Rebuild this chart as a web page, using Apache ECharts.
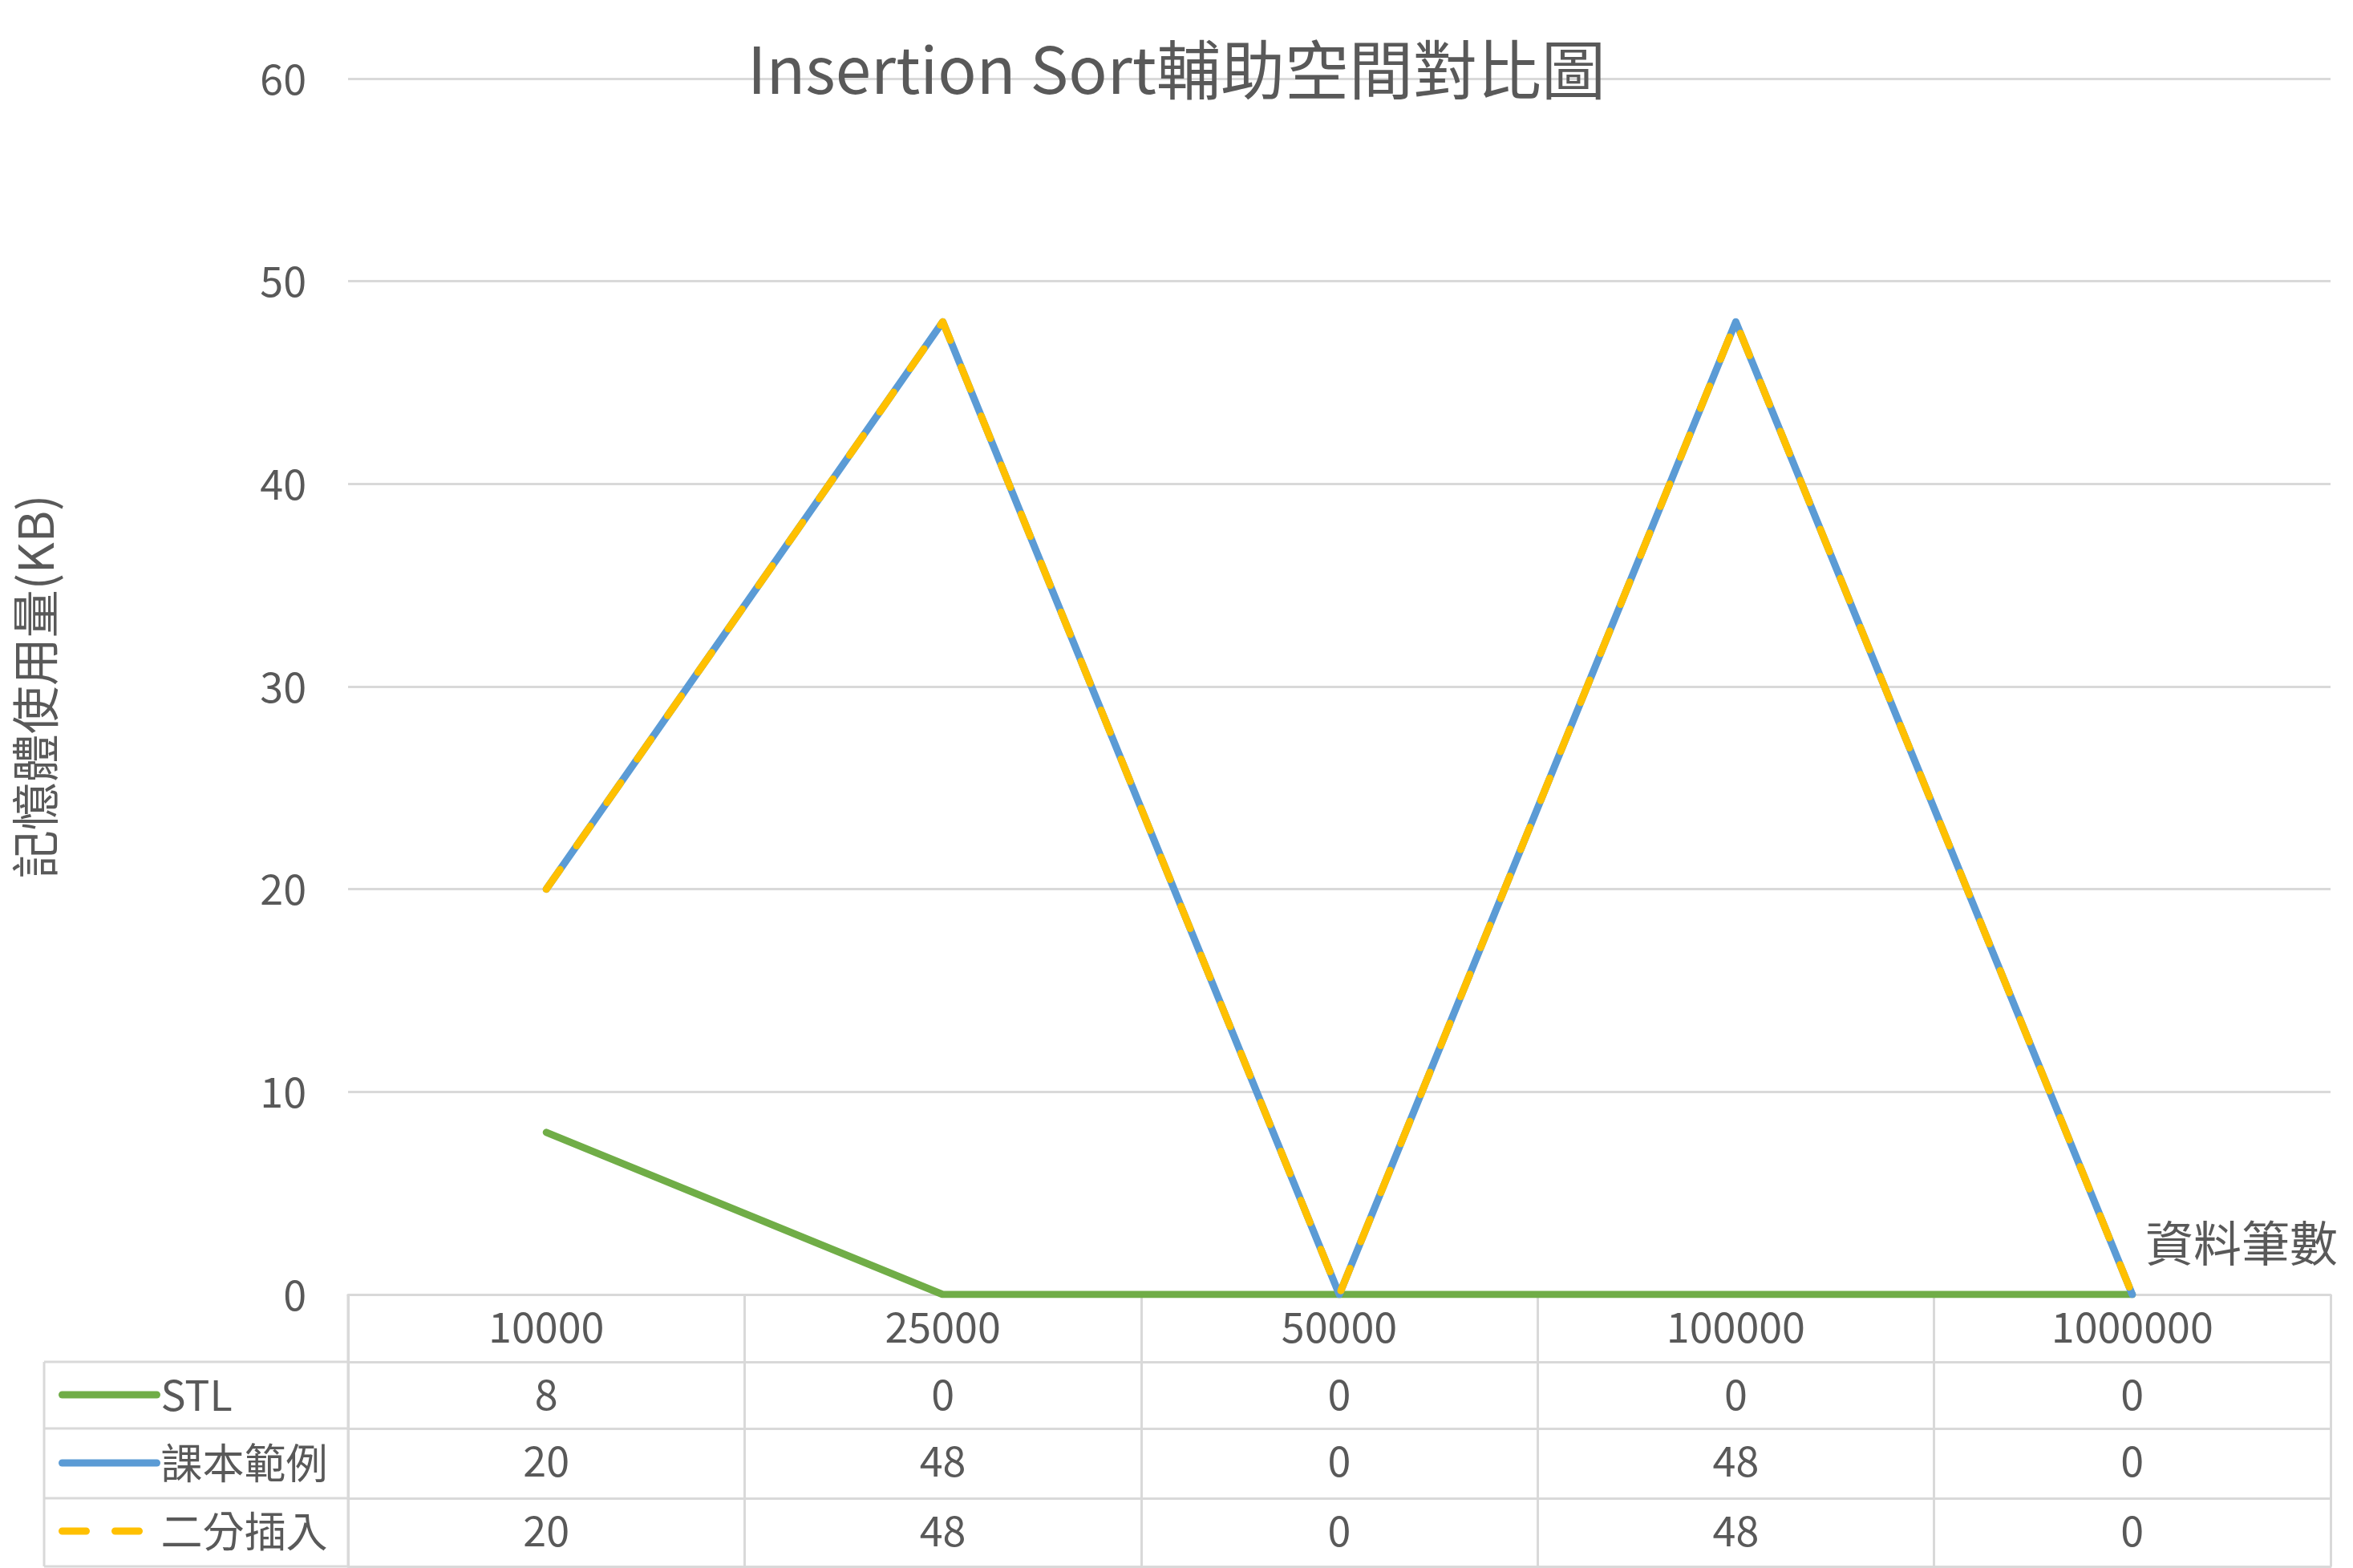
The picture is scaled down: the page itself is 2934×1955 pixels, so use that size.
<!DOCTYPE html>
<html>
<head>
<meta charset="utf-8">
<script src="https://cdn.jsdelivr.net/npm/echarts@6/dist/echarts.min.js"></script>
<style>
  html, body { margin: 0; padding: 0; background: #fff; }
  #chart { width: 2934px; height: 1955px; }
</style>
</head>
<body>
<div id="chart"></div>
<script>
// data
const categories = ["10000", "25000", "50000", "100000", "1000000"];
const stlValues = [8, 0, 0, 0, 0];
const textbookValues = [20, 48, 0, 48, 0];
const binaryValues = [20, 48, 0, 48, 0];
const seriesNames = ["STL", "課本範例", "二分插入"];
const yTicks = { min: 0, max: 60, interval: 10 };

const font = '"Noto Sans CJK TC", "Noto Sans", sans-serif';
const textColor = "#595959";
const lineColor = "#D9D9D9";

// layout of plot + table rows
const gridLeft = 434, gridRight = 2906, gridTop = 98, baseY = 1614;
const rowBottoms = [1698, 1781, 1868, 1953];
const legendLeft = 55;

const chart = echarts.init(document.getElementById("chart"));

// one x axis per table row, labels taken from the series arrays
function rowAxis(offset, tickLen, values) {
  return {
    type: "category",
    data: categories,
    position: "bottom",
    offset: offset,
    axisLine: { show: true, lineStyle: { color: lineColor, width: 3 } },
    axisTick: { show: tickLen > 0, interval: 0, length: tickLen, lineStyle: { color: lineColor, width: 3 } },
    axisLabel: {
      show: !!values,
      interval: 0,
      margin: 12,
      fontSize: 52,
      lineHeight: 56,
      color: textColor,
      fontFamily: font,
      formatter: (v, i) => (values ? String(values[i]) : ""),
    },
    splitLine: { show: false },
  };
}

const option = {
  backgroundColor: "#fff",
  title: {
    text: "Insertion Sort輔助空間對比圖",
    left: "center",
    top: 40,
    textStyle: { fontSize: 80, lineHeight: 84, fontWeight: "normal", color: textColor, fontFamily: font },
  },
  grid: { left: gridLeft, right: 2934 - gridRight, top: gridTop, bottom: 1955 - baseY, containLabel: false },
  legend: {
    orient: "vertical",
    left: 68,
    top: 1704,
    itemWidth: 118,
    itemHeight: 14,
    itemGap: 25,
    itemStyle: { opacity: 0 },
    lineStyle: { width: 9, cap: "round" },
    textStyle: { fontSize: 52, lineHeight: 60, color: textColor, fontFamily: font },
    data: seriesNames,
  },
  xAxis: [
    {
      type: "category",
      data: categories,
      position: "bottom",
      name: "資料筆數",
      nameLocation: "end",
      nameGap: 9,
      nameTextStyle: {
        fontSize: 60,
        color: textColor,
        fontFamily: font,
        align: "right",
        verticalAlign: "bottom",
        padding: [0, 0, 34, 0],
      },
      axisLine: { show: true, lineStyle: { color: lineColor, width: 3 } },
      axisTick: { show: true, interval: 0, length: rowBottoms[0] - baseY, lineStyle: { color: lineColor, width: 3 } },
      axisLabel: { interval: 0, margin: 12, fontSize: 52, lineHeight: 56, color: textColor, fontFamily: font },
    },
    rowAxis(rowBottoms[0] - baseY, rowBottoms[1] - rowBottoms[0], stlValues),
    rowAxis(rowBottoms[1] - baseY, rowBottoms[2] - rowBottoms[1], textbookValues),
    rowAxis(rowBottoms[2] - baseY, rowBottoms[3] - rowBottoms[2], binaryValues),
    rowAxis(rowBottoms[3] - baseY, 0, null),
  ],
  yAxis: {
    type: "value",
    min: yTicks.min,
    max: yTicks.max,
    interval: yTicks.interval,
    name: "記憶體使用量(KB)",
    nameLocation: "middle",
    nameRotate: 90,
    nameGap: 360,
    nameTextStyle: { fontSize: 60, color: textColor, fontFamily: font },
    axisLine: { show: false },
    axisTick: { show: false },
    axisLabel: { fontSize: 52, margin: 52, color: textColor, fontFamily: font },
    splitLine: { lineStyle: { color: lineColor, width: 3 } },
  },
  series: [
    {
      name: seriesNames[0],
      type: "line",
      data: stlValues,
      symbol: "none",
      color: "#70AD47",
      lineStyle: { width: 9, color: "#70AD47", cap: "round", join: "round" },
    },
    {
      name: seriesNames[1],
      type: "line",
      data: textbookValues,
      symbol: "none",
      color: "#5B9BD5",
      lineStyle: { width: 9, color: "#5B9BD5", cap: "round", join: "round" },
    },
    {
      name: seriesNames[2],
      type: "line",
      data: binaryValues,
      symbol: "none",
      color: "#FFC000",
      lineStyle: { width: 9, color: "#FFC000", type: [30, 36], cap: "round", join: "round" },
    },
  ],
  animation: false,
};

chart.setOption(option);

// borders of the legend column of the data table
const borderStyle = { stroke: lineColor, lineWidth: 3 };
const tableLines = rowBottoms.map((y) => ({
  type: "line",
  shape: { x1: legendLeft, y1: y, x2: gridLeft, y2: y },
  style: borderStyle,
}));
tableLines.push({
  type: "line",
  shape: { x1: legendLeft, y1: rowBottoms[0], x2: legendLeft, y2: rowBottoms[3] },
  style: borderStyle,
});
tableLines.push({
  type: "line",
  shape: { x1: gridLeft, y1: baseY, x2: gridLeft, y2: rowBottoms[3] },
  style: borderStyle,
});
chart.setOption({ graphic: tableLines });
</script>
</body>
</html>
